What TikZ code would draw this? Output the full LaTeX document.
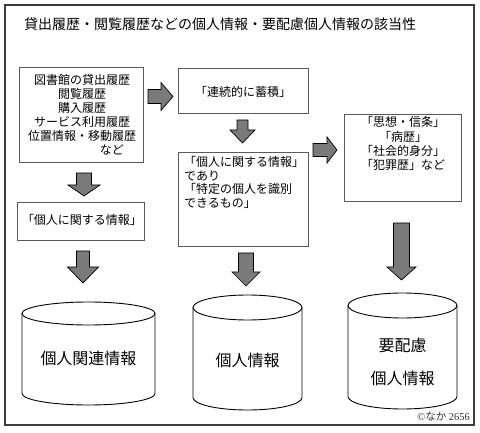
\documentclass[tikz,border=0pt]{standalone}
\usepackage{fontspec}
\setmainfont{Noto Sans CJK JP}
\newfontfamily\serifcr{Liberation Serif}
\usetikzlibrary{calc}
\definecolor{arrowgray}{RGB}{122,122,122}
\definecolor{boxline}{RGB}{90,90,90}
\definecolor{frameline}{RGB}{60,60,60}
\tikzset{
  boxnode/.style={draw=boxline,line width=0.8pt,fill=white,inner sep=0pt},
  txt/.style={inner sep=0pt,font=\fontsize{12}{14}\selectfont},
  bigtxt/.style={inner sep=0pt,font=\fontsize{16}{18}\selectfont},
  blockarrow/.style={draw=black,line width=0.7pt,fill=arrowgray,line join=miter},
  cylline/.style={draw=black,line width=0.9pt}
}
\newcommand\rarrowshape[6]{% x1 xm x2 yc shaft-half head-half
  \draw[blockarrow] (#1,{#4-#5}) -- (#2,{#4-#5}) -- (#2,{#4-#6}) -- (#3,#4)
    -- (#2,{#4+#6}) -- (#2,{#4+#5}) -- (#1,{#4+#5}) -- cycle;}
\newcommand\darrowshape[6]{% xc y1 ym y2 shaft-half head-half
  \draw[blockarrow] ({#1-#5},#2) -- ({#1+#5},#2) -- ({#1+#5},#3) -- ({#1+#6},#3)
    -- (#1,#4) -- ({#1-#6},#3) -- ({#1-#5},#3) -- cycle;}
\newcommand\mycyl[5]{% cx rx ytop ybot ry
  \draw[cylline,fill=white] ({#1-#2},{#3+#5}) -- ({#1-#2},{#4-#5})
    arc[start angle=180,end angle=0,x radius=#2,y radius=#5] -- ({#1+#2},{#3+#5});
  \draw[cylline] (#1,{#3+#5}) ellipse [x radius=#2,y radius=#5];}
\begin{document}
\begin{tikzpicture}[x=1pt,y=-1pt]
\useasboundingbox (0,0) rectangle (480,433);
\fill[white] (0,0) rectangle (480,433);
\draw[frameline,line width=1.6pt] (5,5) rectangle (474,425);

% title
\node[inner sep=0pt,anchor=west,font=\fontsize{14}{16}\selectfont] (title) at (24,24)
  {貸出履歴・閲覧履歴などの個人情報・要配慮個人情報の該当性};

% boxes
\node[boxnode,minimum width=124pt,minimum height=95pt] (b1) at (81,114.5) {};
\node[txt,align=center] (t1) at (82,114.5) {図書館の貸出履歴\\閲覧履歴\\購入履歴\\サービス利用履歴\\位置情報・移動履歴\\\hspace*{5em}など};

\node[boxnode,minimum width=130pt,minimum height=45pt] (b2) at (243,90.5) {};
\node[txt] (t2) at (243,92) {「連続的に蓄積」};

\node[boxnode,minimum width=130pt,minimum height=94pt] (b3) at (243,199) {};
\node[txt,align=left,anchor=north west,font=\fontsize{12}{13.7}\selectfont] (t3) at (184,156)
  {「個人に関する情報」\\であり\\「特定の個人を識別\\できるもの」};

\node[boxnode,minimum width=117pt,minimum height=87pt] (b4) at (402.5,157.5) {};
\node[txt,align=center,anchor=north,font=\fontsize{12}{14.3}\selectfont] (t4) at (403,116.5)
  {「思想・信条」\\「病歴」\\「社会的身分」\\「犯罪歴」など};

\node[boxnode,minimum width=127pt,minimum height=38pt] (b5) at (80.5,221) {};
\node[txt] (t5) at (82,220) {「個人に関する情報」};

% block arrows
\rarrowshape{148}{161}{173}{96.5}{7}{14}
\darrowshape{242.5}{120}{130}{143}{5.5}{12.5}
\rarrowshape{313}{327}{337}{150}{6.5}{13}
\darrowshape{84}{173}{185}{196}{7.5}{16}
\darrowshape{83}{251}{267}{283}{6.5}{15.5}
\darrowshape{246}{253}{272}{286}{7.5}{14}
\darrowshape{401.5}{223}{267}{280}{8}{14.5}

% cylinders
\mycyl{88.5}{66.5}{302}{405}{11.5}
\mycyl{247.5}{54.5}{295}{410}{12.5}
\mycyl{402.5}{54.5}{293}{409}{12.5}

\node[bigtxt] (c1) at (88.5,358) {個人関連情報};
\node[bigtxt] (c2) at (247.5,360) {個人情報};
\node[bigtxt] (c3a) at (402.5,345) {要配慮};
\node[bigtxt] (c3b) at (402.5,378) {個人情報};

% copyright
\node[inner sep=0pt,anchor=east,text=black!80,font=\fontsize{10.5}{12}\selectfont] (copy) at (470,417)
  {{\serifcr ©}なか {\serifcr 2656}};
\end{tikzpicture}
\end{document}
